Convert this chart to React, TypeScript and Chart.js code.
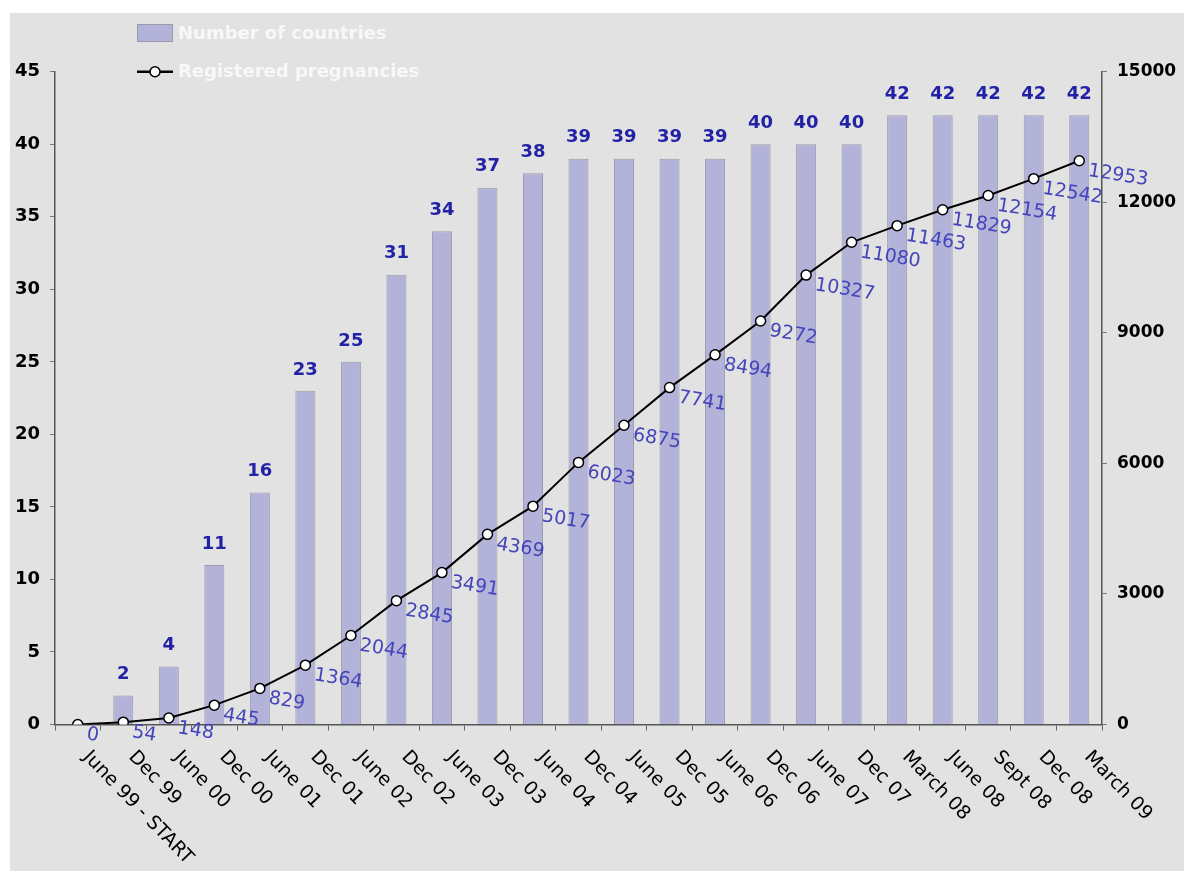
import React, { useEffect, useRef } from "react";
import { Chart, registerables } from "chart.js";

Chart.register(...registerables);

const categories = [
  "June 99 - START", "Dec 99", "June 00", "Dec 00", "June 01", "Dec 01", "June 02", "Dec 02",
  "June 03", "Dec 03", "June 04", "Dec 04", "June 05", "Dec 05", "June 06", "Dec 06",
  "June 07", "Dec 07", "March 08", "June 08", "Sept 08", "Dec 08", "March 09",
];

const countries: (number | null)[] = [
  null, 2, 4, 11, 16, 23, 25, 31, 34, 37, 38, 39, 39, 39, 39, 40, 40, 40, 42, 42, 42, 42, 42,
];

const pregnancies = [
  0, 54, 148, 445, 829, 1364, 2044, 2845, 3491, 4369, 5017, 6023, 6875, 7741, 8494, 9272,
  10327, 11080, 11463, 11829, 12154, 12542, 12953,
];

const seriesNames = ["Number of countries", "Registered pregnancies"];

const FONT = '"DejaVu Sans", Verdana, sans-serif';
const BAR_FILL = "#b3b3d9";
const BAR_BORDER = "#9a9aa8";
const BAR_LABEL = "#2222a6";
const LINE_LABEL = "#4444bb";

const labelsPlugin = {
  id: "customLabels",
  afterDatasetsDraw(chart: any) {
    const ctx = chart.ctx;
    const barMeta = chart.getDatasetMeta(0);
    const lineMeta = chart.getDatasetMeta(1);
    ctx.save();
    ctx.font = `bold 18px ${FONT}`;
    ctx.fillStyle = BAR_LABEL;
    ctx.textAlign = "center";
    ctx.textBaseline = "middle";
    barMeta.data.forEach((el: any, i: number) => {
      const v = countries[i];
      if (v == null) return;
      ctx.fillText(String(v), el.x, el.y - 21);
    });
    ctx.font = `19px ${FONT}`;
    ctx.fillStyle = LINE_LABEL;
    ctx.textAlign = "left";
    lineMeta.data.forEach((el: any, i: number) => {
      ctx.save();
      ctx.translate(el.x + 9, el.y + 10);
      ctx.rotate(0.16);
      ctx.fillText(String(pregnancies[i]), 0, 0);
      ctx.restore();
    });
    ctx.restore();
  },
  afterDraw(chart: any) {
    const ctx = chart.ctx;
    const xs = chart.scales.x;
    ctx.save();
    // x tick labels rotated clockwise
    ctx.font = `19px ${FONT}`;
    ctx.fillStyle = "#000";
    ctx.textAlign = "left";
    ctx.textBaseline = "top";
    categories.forEach((c, i) => {
      const px = xs.getPixelForValue(i);
      ctx.save();
      ctx.translate(px + 15, xs.top + 23);
      ctx.rotate((46 * Math.PI) / 180);
      ctx.fillText(c, 0, 0);
      ctx.restore();
    });
    // legend
    ctx.fillStyle = BAR_FILL;
    ctx.fillRect(127, 11, 36, 18);
    ctx.strokeStyle = BAR_BORDER;
    ctx.lineWidth = 1;
    ctx.strokeRect(127.5, 11.5, 35, 17);
    ctx.strokeStyle = "#000";
    ctx.lineWidth = 2.5;
    ctx.beginPath();
    ctx.moveTo(127, 58.7);
    ctx.lineTo(163, 58.7);
    ctx.stroke();
    ctx.beginPath();
    ctx.arc(145, 58.7, 5, 0, Math.PI * 2);
    ctx.fillStyle = "#fff";
    ctx.fill();
    ctx.lineWidth = 1.5;
    ctx.stroke();
    ctx.font = `bold 18px ${FONT}`;
    ctx.fillStyle = "#f8f8f8";
    ctx.textBaseline = "middle";
    ctx.fillText(seriesNames[0], 168, 21);
    ctx.fillText(seriesNames[1], 168, 59);
    ctx.restore();
  },
};

export default function App() {
  const canvasRef = useRef<HTMLCanvasElement | null>(null);

  useEffect(() => {
    if (!canvasRef.current) return;
    const chart = new Chart(canvasRef.current, {
      type: "bar",
      data: {
        labels: categories,
        datasets: [
          {
            type: "bar",
            label: seriesNames[0],
            data: countries,
            backgroundColor: BAR_FILL,
            borderColor: BAR_BORDER,
            borderWidth: 1,
            barPercentage: 0.44,
            categoryPercentage: 1,
            yAxisID: "y",
            order: 2,
          },
          {
            type: "line",
            label: seriesNames[1],
            data: pregnancies,
            borderColor: "#000",
            borderWidth: 2,
            pointRadius: 5,
            pointBackgroundColor: "#fff",
            pointBorderColor: "#000",
            pointBorderWidth: 1.5,
            tension: 0,
            yAxisID: "y1",
            order: 1,
          },
        ],
      },
      options: {
        responsive: false,
        animation: false,
        devicePixelRatio: 1,
        layout: { padding: { top: 58.7, left: 0, right: 0, bottom: 0 } },
        plugins: {
          legend: { display: false },
          tooltip: { enabled: false },
        },
        scales: {
          x: {
            offset: true,
            grid: {
              display: true,
              offset: true,
              drawOnChartArea: false,
              drawTicks: true,
              tickLength: 6,
              color: "#666",
            },
            border: { color: "#555", width: 1.5 },
            ticks: { display: false },
            afterFit: (s: any) => {
              s.height = 146.5;
            },
          },
          y: {
            position: "left",
            min: 0,
            max: 45,
            ticks: {
              stepSize: 5,
              color: "#000",
              padding: 10,
              font: { family: FONT, size: 18, weight: "bold" },
            },
            grid: { drawOnChartArea: false, tickLength: 5, color: "#777" },
            border: { color: "#555", width: 1.5 },
            afterFit: (s: any) => {
              s.width = 45;
            },
          },
          y1: {
            position: "right",
            min: 0,
            max: 15000,
            ticks: {
              stepSize: 3000,
              color: "#000",
              padding: 10,
              font: { family: FONT, size: 17, weight: "bold" },
              callback: (v: any) => String(v),
            },
            grid: { drawOnChartArea: false, tickLength: 5, color: "#777" },
            border: { color: "#555", width: 1.5 },
            afterFit: (s: any) => {
              s.width = 82;
            },
          },
        },
      },
      plugins: [labelsPlugin],
    } as any);
    return () => chart.destroy();
  }, []);

  return (
    <div style={{ position: "fixed", left: 0, top: 0, width: 1184, height: 871, background: "#fff" }}>
      <canvas
        ref={canvasRef}
        width={1174}
        height={858}
        style={{ position: "absolute", left: 10, top: 13, width: 1174, height: 858, background: "#e2e2e2" }}
      />
    </div>
  );
}
